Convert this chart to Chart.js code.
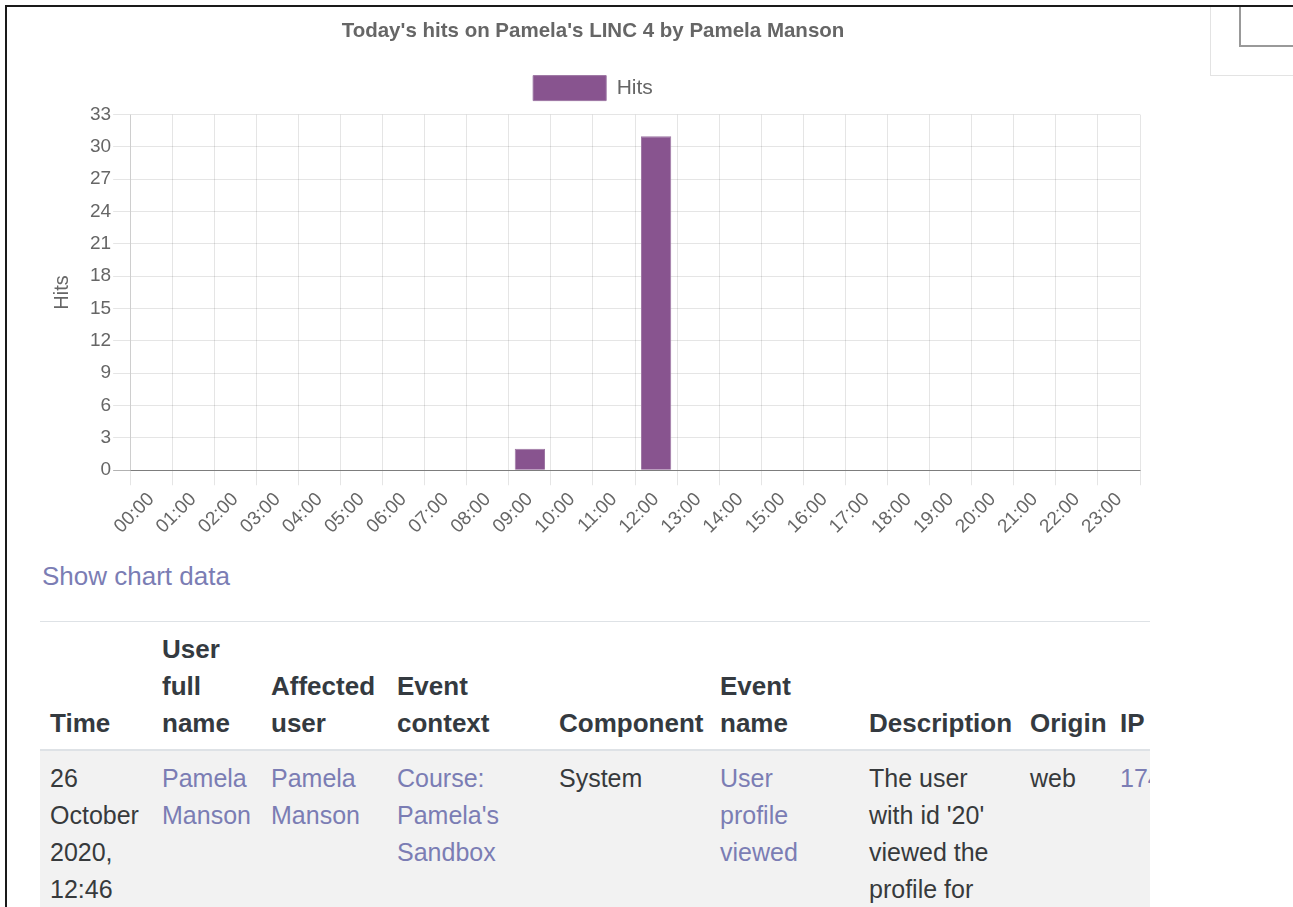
<!DOCTYPE html>
<html lang="en">
	<head>
		<meta charset="UTF-8" />
		<title>Today's hits</title>
		<script src="https://cdn.jsdelivr.net/npm/chart.js"></script>
		<style>
			body { margin: 0; background: #fff; font-family: "Liberation Sans", Arial, Helvetica, sans-serif; overflow: hidden; }
			.frame { position: absolute; left: 5px; top: 5px; width: 1300px; height: 920px; border-left: 2px solid #1a1a1a; border-top: 2px solid #1a1a1a; }
			.side-box { position: absolute; left: 1210px; top: 7px; width: 100px; height: 68px; border-left: 1px solid #e3e3e3; border-bottom: 1px solid #e3e3e3; }
			.side-input { position: absolute; left: 1239px; top: 7px; width: 80px; height: 38px; border-left: 2px solid #999; border-bottom: 2px solid #999; }
			#chartBox { position: absolute; left: 0; top: 0; width: 1158px; height: 541px; }
			.show-data { position: absolute; left: 42px; top: 561px; font-size: 26px; color: #7b7db4; text-decoration: none; }
			.table-wrap { position: absolute; left: 40px; top: 621px; width: 1110px; height: 300px; overflow: hidden; border-top: 1px solid #dee2e6; }
			table { border-collapse: collapse; table-layout: fixed; width: 1300px; font-size: 25px; line-height: 37px; }
			th, td { text-align: left; padding: 9px 0 7px 10px; overflow: hidden; white-space: nowrap; }
			th { vertical-align: bottom; color: #343a40; font-weight: bold; font-size: 26px; border-bottom: 2px solid #dee2e6; }
			td { vertical-align: top; color: #373a3c; background: #f2f2f2; }
			td a { color: #7b7db4; text-decoration: none; }
		</style>
	</head>
	<body>
		<div class="frame"></div>
		<div class="side-box"></div>
		<div class="side-input"></div>

		<div id="chartBox"><canvas id="hitsChart"></canvas></div>

		<a class="show-data" href="#">Show chart data</a>

		<div class="table-wrap">
			<table>
				<colgroup>
					<col style="width: 112px" />
					<col style="width: 109px" />
					<col style="width: 126px" />
					<col style="width: 162px" />
					<col style="width: 161px" />
					<col style="width: 149px" />
					<col style="width: 161px" />
					<col style="width: 90px" />
					<col style="width: 230px" />
				</colgroup>
				<thead>
					<tr>
						<th>Time</th>
						<th>User<br />full<br />name</th>
						<th>Affected<br />user</th>
						<th>Event<br />context</th>
						<th>Component</th>
						<th>Event<br />name</th>
						<th>Description</th>
						<th>Origin</th>
						<th>IP address</th>
					</tr>
				</thead>
				<tbody>
					<tr>
						<td>26<br />October<br />2020,<br />12:46</td>
						<td><a href="#">Pamela<br />Manson</a></td>
						<td><a href="#">Pamela<br />Manson</a></td>
						<td><a href="#">Course:<br />Pamela's<br />Sandbox</a></td>
						<td>System</td>
						<td><a href="#">User<br />profile<br />viewed</a></td>
						<td>The user<br />with id '20'<br />viewed the<br />profile for</td>
						<td>web</td>
						<td><a href="#">174.112.8.63</a></td>
					</tr>
				</tbody>
			</table>
		</div>

		<script>
			// chart data
			const chartTitle = "Today's hits on Pamela's LINC 4 by Pamela Manson";
			const seriesName = "Hits";
			const hours = [
				"00:00", "01:00", "02:00", "03:00", "04:00", "05:00", "06:00", "07:00",
				"08:00", "09:00", "10:00", "11:00", "12:00", "13:00", "14:00", "15:00",
				"16:00", "17:00", "18:00", "19:00", "20:00", "21:00", "22:00", "23:00",
			];
			const hits = [0, 0, 0, 0, 0, 0, 0, 0, 0, 2, 0, 0, 31, 0, 0, 0, 0, 0, 0, 0, 0, 0, 0, 0];

			Chart.defaults.font.family = "'Liberation Sans', Arial, Helvetica, sans-serif";
			Chart.defaults.color = "#666";

			// small empty box between legend and plot, for a bit more room under the legend
			const legendGap = {
				id: "legendGap",
				beforeInit(chart) {
					Chart.layouts.addBox(chart, {
						position: "top",
						weight: 0,
						fullSize: true,
						options: {},
						width: 0,
						height: 0,
						update(maxWidth) {
							this.width = maxWidth;
							this.height = 4;
						},
						isHorizontal() {
							return true;
						},
						draw() {},
					});
				},
			};

			const ctx = document.getElementById("hitsChart").getContext("2d");
			new Chart(ctx, {
				type: "bar",
				data: {
					labels: hours,
					datasets: [
						{
							label: seriesName,
							data: hits,
							backgroundColor: "#88548f",
							borderColor: "#9d76a3",
							borderWidth: 1,
						},
					],
				},
				plugins: [legendGap],
				options: {
					responsive: true,
					maintainAspectRatio: false,
					animation: false,
					layout: { padding: { left: 46, right: 18, top: 0, bottom: 0 } },
					scales: {
						x: {
							grid: { color: "rgba(0,0,0,0.1)", tickLength: 15 },
							border: { color: "rgba(0,0,0,0.3)" },
							ticks: { font: { size: 19 }, minRotation: 45, maxRotation: 45, padding: 3 },
						},
						y: {
							min: 0,
							max: 33,
							grid: {
								tickLength: 17,
								color: (c) => (c.tick && c.tick.value === 0 ? "rgba(0,0,0,0.3)" : "rgba(0,0,0,0.1)"),
							},
							ticks: { stepSize: 3, font: { size: 19 }, padding: 2 },
							title: { display: true, text: seriesName, font: { size: 20 }, padding: { top: 4, bottom: 14 } },
						},
					},
					plugins: {
						title: {
							display: true,
							text: chartTitle,
							font: { size: 20.5, weight: "bold" },
							padding: { top: 19, bottom: 20 },
						},
						legend: {
							display: true,
							position: "top",
							labels: { boxWidth: 73, boxHeight: 25, padding: 12, font: { size: 21 } },
						},
						tooltip: { enabled: false },
					},
				},
			});
		</script>
	</body>
</html>
